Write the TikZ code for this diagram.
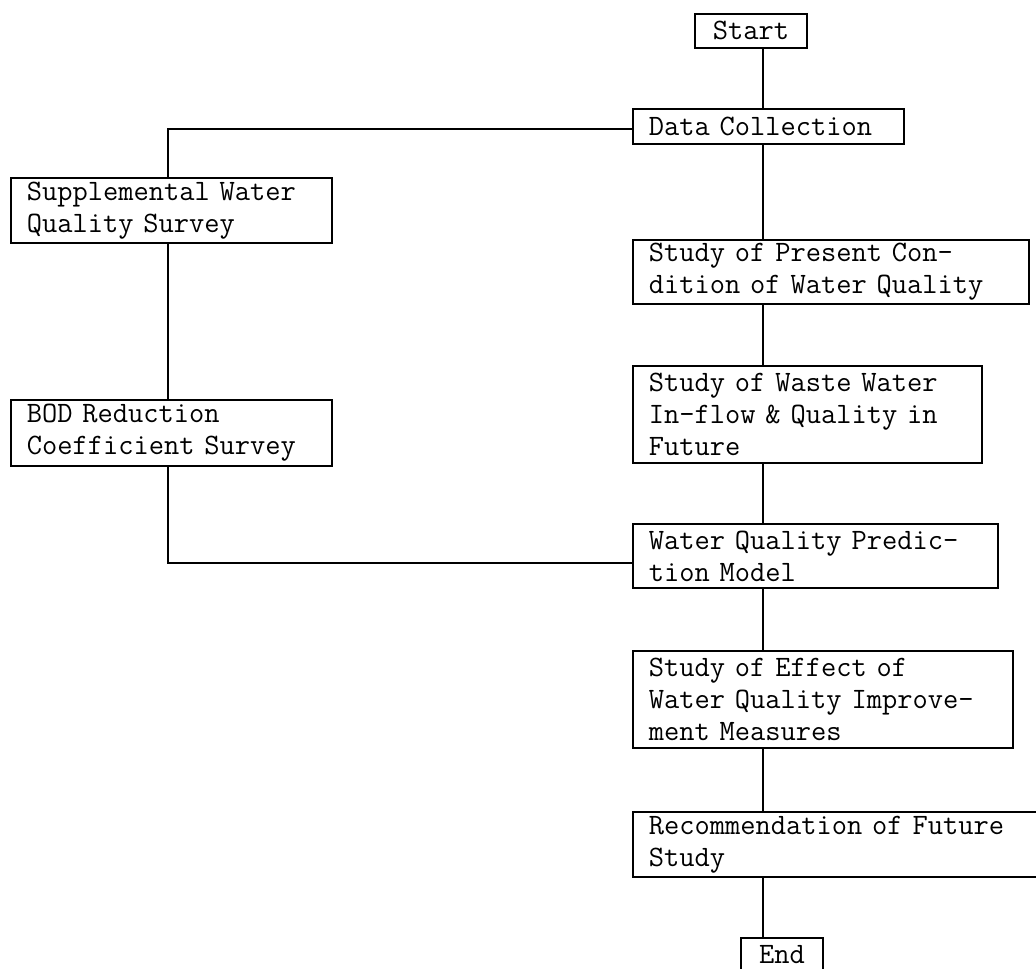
\documentclass[tikz,border=0pt]{standalone}
\usepackage{fontspec}
\usepackage{tikz}
\usetikzlibrary{positioning}

\tikzset{
    stepbox/.style={draw, line width=0.9pt, anchor=north west, align=left,
        inner xsep=8pt, inner ysep=0pt,
        font=\ttfamily\fontsize{14.8pt}{16pt}\selectfont},
    endbox/.style={draw, line width=0.9pt, anchor=north west, align=center,
        inner sep=0pt, font=\ttfamily\fontsize{14.8pt}{16pt}\selectfont},
    link/.style={line width=0.9pt}
}

\begin{document}
\begin{tikzpicture}[x=0.5pt, y=-0.5pt]

    % page frame
    \useasboundingbox (0,0) rectangle (1036,968);
    \clip (0,0) rectangle (1036,968);

    % the two vertical lines
    \coordinate (spine) at (763,0);
    \coordinate (lspine) at (168,0);

    % main column on the right
    \node[endbox, minimum width=56pt, minimum height=17pt] (start) at (694,13) {Start};
    \node[stepbox, text width=119.5pt, minimum height=17.5pt] (data) at (632,108) {Data Collection};
    \node[stepbox, text width=182pt, minimum height=32pt] (present) at (632,239)
        {Study of Present Con-\\dition of Water Quality};
    \node[stepbox, text width=158.5pt, minimum height=48.5pt] (waste) at (632,365)
        {Study of Waste Water\\In-flow \& Quality in\\Future};
    \node[stepbox, text width=166.5pt, minimum height=32pt] (wqp) at (632,523)
        {Water Quality Predic-\\tion Model};
    \node[stepbox, text width=174pt, minimum height=48.5pt] (effect) at (632,650)
        {Study of Effect of\\Water Quality Improve-\\ment Measures};
    \node[stepbox, text width=204pt, minimum height=32.5pt] (rec) at (632,811)
        {Recommendation of Future\\Study};
    \node[endbox, minimum width=41pt, minimum height=17pt] (end) at (740,937) {End};

    % side column on the left
    \node[stepbox, text width=144.5pt, minimum height=32.5pt] (supp) at (10,177)
        {Supplemental Water\\Quality Survey};
    \node[stepbox, text width=144.5pt, minimum height=33pt] (bod) at (10,399)
        {BOD Reduction\\Coefficient Survey};

    % connectors
    \draw[link] (start.south -| spine) -- (data.north -| spine);
    \draw[link] (data.south -| spine) -- (present.north -| spine);
    \draw[link] (present.south -| spine) -- (waste.north -| spine);
    \draw[link] (waste.south -| spine) -- (wqp.north -| spine);
    \draw[link] (wqp.south -| spine) -- (effect.north -| spine);
    \draw[link] (effect.south -| spine) -- (rec.north -| spine);
    \draw[link] (rec.south -| spine) -- (end.north -| spine);

    \draw[link] ([yshift=-1.25pt]data.west) -| (supp.north -| lspine);
    \draw[link] (supp.south -| lspine) -- (bod.north -| lspine);
    \draw[link] (bod.south -| lspine) |- ([yshift=-3.5pt]wqp.west);

\end{tikzpicture}
\end{document}
